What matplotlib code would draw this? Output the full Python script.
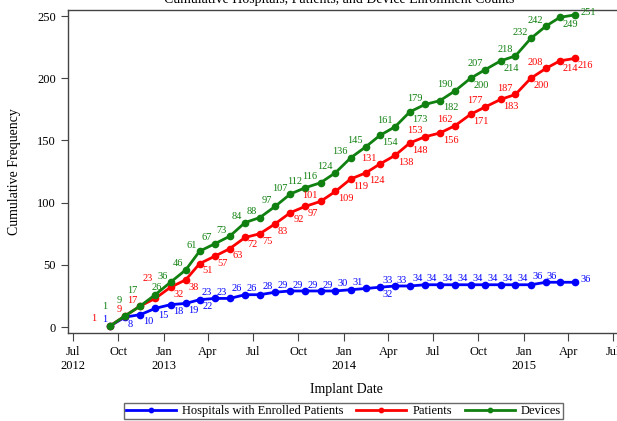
import pandas as pd
import matplotlib
matplotlib.use('Agg')
import matplotlib.pyplot as plt

plt.rcParams['font.family'] = ['Liberation Serif', 'DejaVu Serif']

# Monthly cumulative counts, Sep 2012 - Apr 2015
months = pd.date_range('2012-09-01', periods=32, freq='MS') + pd.Timedelta(days=14)

hospitals = [1, 8, 10, 15, 18, 19, 22, 23, 23, 26, 26, 28, 29, 29, 29, 29,
             30, 31, 32, 33, 33, 34, 34, 34, 34, 34, 34, 34, 34, 36, 36, 36]
patients = [1, 9, 17, 23, 32, 38, 51, 57, 63, 72, 75, 83, 92, 97, 101, 109,
            119, 124, 131, 138, 148, 153, 156, 162, 171, 177, 183, 187, 200, 208, 214, 216]
devices = [1, 9, 17, 26, 36, 46, 61, 67, 73, 84, 88, 97, 107, 112, 116, 124,
           136, 145, 154, 161, 173, 179, 182, 190, 200, 207, 214, 218, 232, 242, 249, 251]

# where each point label goes relative to its marker
hosp_pos = ['ul'] + ['lr'] * 6 + ['ul'] * 11 + ['lr'] + ['ul'] * 12 + ['r']
pat_pos = (['ll'] + ['ul'] * 2 + ['uu'] + ['lr'] * 10 + ['ul'] + ['lr'] * 3 + ['ul'] + ['lr'] * 2
           + ['ul', 'lr'] * 5 + ['lr', 'r'])
dev_pos = (['uu', 'u9', 'u9', 'u'] + ['ul'] * 14 + ['lr', 'ul'] * 4 + ['lr'] + ['ul'] * 3 + ['lr', 'r'])

tick_dates = pd.date_range('2012-07-01', '2015-07-01', freq='QS-JAN')
tick_labels = ['Jul\n2012', 'Oct', 'Jan\n2013', 'Apr', 'Jul', 'Oct', 'Jan\n2014',
               'Apr', 'Jul', 'Oct', 'Jan\n2015', 'Apr', 'Jul']

placement = {
    'ul': ((-2, 1), 'right', 'bottom'),
    'lr': ((2, -2), 'left', 'top'),
    'r': ((4, 2), 'left', 'center'),
    'll': ((-10, 2), 'right', 'bottom'),
    'uu': ((-2, 11), 'right', 'bottom'),
    'u9': ((-2, 8), 'right', 'bottom'),
    'u': ((1, 2), 'center', 'bottom'),
}

fig = plt.figure(figsize=(6.17, 4.21), dpi=100)
ax = fig.add_axes([0.110, 0.209, 0.903, 0.767])

series = [
    ('Hospitals with Enrolled Patients', hospitals, hosp_pos, '#0000ff'),
    ('Patients', patients, pat_pos, '#ff0000'),
    ('Devices', devices, dev_pos, '#108010'),
]

for name, vals, pos, col in series:
    ax.plot(months, vals, color=col, lw=2, marker='o', ms=4.5, label=name)
    for d, v, p in zip(months, vals, pos):
        off, ha, va = placement[p]
        ax.annotate(str(v), (d, v), xytext=off, textcoords='offset points',
                    ha=ha, va=va, fontsize=7.5, color=col)

ax.set_xlim(pd.Timestamp('2012-06-21'), pd.Timestamp('2015-07-25'))
ax.set_ylim(-4.8, 254.8)
ax.set_xticks(tick_dates)
ax.set_xticklabels(tick_labels)
ax.set_yticks([0, 50, 100, 150, 200, 250])
ax.tick_params(axis='both', labelsize=9, length=5, color='#444444')
ax.tick_params(axis='x', length=6)
for s in ax.spines.values():
    s.set_color('#444444')
    s.set_linewidth(1)

ax.set_xlabel('Implant Date', fontsize=10, labelpad=8)
ax.set_ylabel('Cumulative Frequency', fontsize=10, labelpad=12)

fig.text(0.55, 1.0, 'Cumulative Hospitals, Patients, and Device Enrollment Counts',
         ha='center', va='center', fontsize=10)

leg = fig.legend(loc='lower center', bbox_to_anchor=(0.557, -0.01), ncol=3, fontsize=9,
                 frameon=True, fancybox=False, edgecolor='#444444', handlelength=4,
                 borderpad=0.15, columnspacing=1.0, handletextpad=0.5, markerscale=0.7)
leg.get_frame().set_linewidth(1)

fig.savefig('out.png', dpi=100)
